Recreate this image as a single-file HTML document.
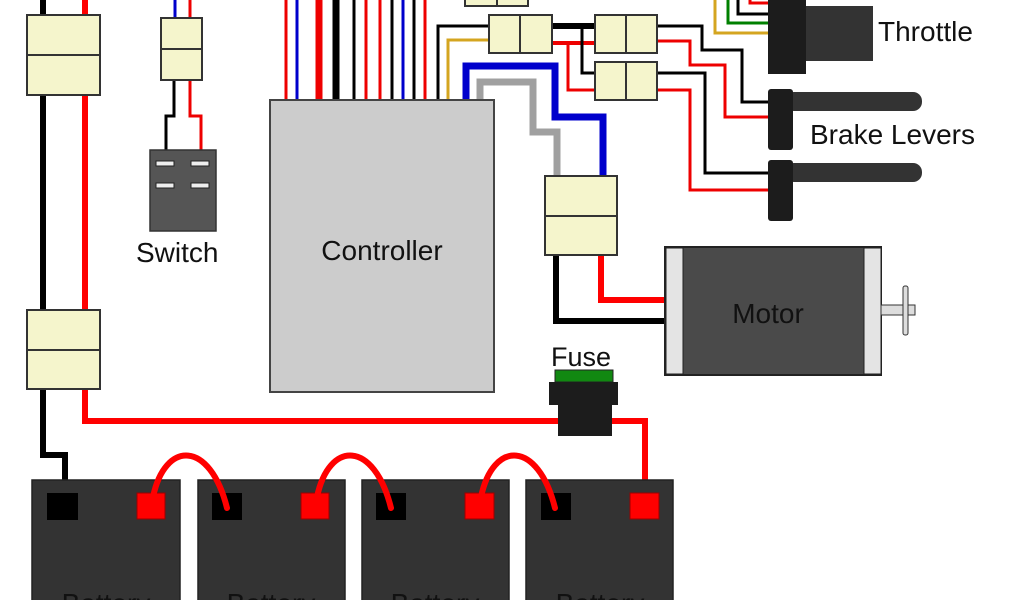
<!DOCTYPE html>
<html><head><style>
html,body{margin:0;padding:0;background:#fff;width:1024px;height:600px;overflow:hidden}
svg{display:block}
text{font-family:"Liberation Sans",sans-serif;fill:#111}
</style></head><body>
<svg width="1024" height="600" viewBox="0 0 1024 600" xmlns="http://www.w3.org/2000/svg">
<g fill="none" stroke-linejoin="miter">
<path d="M43 0V455H65V495" stroke="#000" stroke-width="6"/>
<path d="M85 0V421H558" stroke="#f00" stroke-width="6"/>
<path d="M612 421H645V495" stroke="#f00" stroke-width="6"/>
<path d="M175 0V18" stroke="#0000cc" stroke-width="3"/>
<path d="M190 0V18" stroke="#e00" stroke-width="3"/>
<path d="M174 80V116H166V163" stroke="#000" stroke-width="3"/>
<path d="M190 80V116H201V163" stroke="#e00" stroke-width="3"/>
<g stroke-width="3">
<path d="M286 0V100" stroke="#e00"/>
<path d="M297 0V100" stroke="#0000cc"/>
<path d="M319 0V100" stroke="#e00" stroke-width="7"/>
<path d="M336 0V100" stroke="#000" stroke-width="7"/>
<path d="M354 0V100" stroke="#000"/>
<path d="M366 0V100" stroke="#e00"/>
<path d="M380 0V100" stroke="#e00"/>
<path d="M392 0V100" stroke="#000"/>
<path d="M403 0V100" stroke="#0000cc"/>
<path d="M414 0V100" stroke="#000"/>
<path d="M425 0V100" stroke="#e00"/>
<path d="M438 100V26H489" stroke="#000"/>
<path d="M448 100V40H489" stroke="#d4a520"/>
</g>
<path d="M466 100V66H555V117H603V176" stroke="#0000cc" stroke-width="7"/>
<path d="M480 100V82H533V132H557V176" stroke="#a0a0a0" stroke-width="7"/>
<path d="M552 26H595" stroke="#000" stroke-width="6"/>
<path d="M552 43H595" stroke="#e00" stroke-width="4"/>
<path d="M582 26V73H595" stroke="#000" stroke-width="3"/>
<path d="M568 43V90H595" stroke="#e00" stroke-width="3"/>
<g stroke-width="3">
<path d="M657 26H702V50H742V102H768" stroke="#000"/>
<path d="M657 41H690V65H725V117H768" stroke="#e00"/>
<path d="M657 73H705V173H768" stroke="#000"/>
<path d="M657 90H690V190H768" stroke="#e00"/>
<path d="M715 0V33H768" stroke="#d4a520"/>
<path d="M728 0V23H768" stroke="#008000"/>
<path d="M738 0V14H768" stroke="#000"/>
<path d="M750 0V3H768" stroke="#e00"/>
</g>
<path d="M556 255V321H665" stroke="#000" stroke-width="6"/>
<path d="M601 255V300H665" stroke="#f00" stroke-width="6"/>
</g>
<g fill="#f5f5cc" stroke="#333" stroke-width="2">
<rect x="27" y="15" width="73" height="80"/><path d="M27 55H100"/>
<rect x="27" y="310" width="73" height="79"/><path d="M27 350H100"/>
<rect x="161" y="18" width="41" height="62"/><path d="M161 49H202"/>
<rect x="465" y="-5" width="63" height="11"/><path d="M497 -5V6"/>
<rect x="489" y="15" width="63" height="38"/><path d="M520 15V53"/>
<rect x="595" y="15" width="62" height="38"/><path d="M626 15V53"/>
<rect x="595" y="62" width="62" height="38"/><path d="M626 62V100"/>
<rect x="545" y="176" width="72" height="79"/><path d="M545 216H617"/>
</g>
<rect x="150" y="150" width="66" height="81" fill="#555" stroke="#333" stroke-width="1.5"/>
<g fill="#eee" stroke="#222" stroke-width="1">
<rect x="156" y="161" width="18" height="5"/><rect x="191" y="161" width="18" height="5"/>
<rect x="156" y="183" width="18" height="5"/><rect x="191" y="183" width="18" height="5"/>
</g>
<text x="136" y="262" font-size="28">Switch</text>
<rect x="270" y="100" width="224" height="292" fill="#ccc" stroke="#444" stroke-width="2"/>
<text x="382" y="260" font-size="28" text-anchor="middle">Controller</text>
<rect x="806" y="6" width="67" height="55" fill="#333"/>
<rect x="768" y="-2" width="38" height="76" fill="#1c1c1c"/>
<text x="878" y="41" font-size="28">Throttle</text>
<rect x="785" y="92" width="137" height="19" rx="9" fill="#333"/>
<rect x="768" y="89" width="25" height="61" rx="3" fill="#1c1c1c"/>
<rect x="785" y="163" width="137" height="19" rx="9" fill="#333"/>
<rect x="768" y="160" width="25" height="61" rx="3" fill="#1c1c1c"/>
<text x="810" y="144" font-size="28">Brake Levers</text>
<rect x="665" y="247" width="216" height="128" fill="#4a4a4a" stroke="#222" stroke-width="2"/>
<rect x="666" y="248" width="17" height="126" fill="#e4e4e4" stroke="#222" stroke-width="1"/>
<rect x="864" y="248" width="17" height="126" fill="#e4e4e4" stroke="#222" stroke-width="1"/>
<rect x="881" y="305" width="34" height="10" fill="#ddd" stroke="#333" stroke-width="1"/>
<rect x="903" y="286" width="5" height="49" rx="2" fill="#ddd" stroke="#333" stroke-width="1"/>
<text x="768" y="323" font-size="28" text-anchor="middle">Motor</text>
<text x="551" y="366" font-size="27">Fuse</text>
<rect x="555" y="370" width="58" height="12" fill="#118811" stroke="#222" stroke-width="1"/>
<rect x="549" y="382" width="69" height="23" fill="#1c1c1c"/>
<rect x="558" y="405" width="54" height="31" fill="#1c1c1c"/>
<g fill="#333" stroke="#222" stroke-width="1.5">
<rect x="32" y="480" width="148" height="130"/>
<rect x="198" y="480" width="147" height="130"/>
<rect x="362" y="480" width="147" height="130"/>
<rect x="526" y="480" width="147" height="130"/>
</g>
<g fill="#000">
<rect x="47" y="493" width="31" height="27"/>
<rect x="212" y="493" width="30" height="27"/>
<rect x="376" y="493" width="30" height="27"/>
<rect x="541" y="493" width="30" height="27"/>
</g>
<g fill="#f00" stroke="#900" stroke-width="1">
<rect x="137" y="493" width="28" height="26"/>
<rect x="301" y="493" width="28" height="26"/>
<rect x="465" y="493" width="29" height="26"/>
<rect x="630" y="493" width="29" height="26"/>
</g>
<g fill="none" stroke="#f00" stroke-width="6" stroke-linecap="round">
<path d="M153 497C165 440 210 440 227 508"/>
<path d="M317 497C329 440 374 440 391 508"/>
<path d="M481 497C493 440 538 440 555 508"/>
</g>
<g font-size="28" text-anchor="middle">
<text x="106" y="613">Battery</text>
<text x="271" y="613">Battery</text>
<text x="435" y="613">Battery</text>
<text x="600" y="613">Battery</text>
</g>
</svg>
</body></html>
